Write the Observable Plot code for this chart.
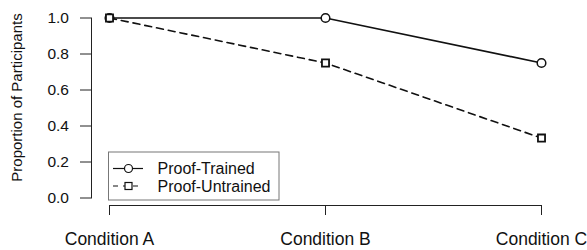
<!DOCTYPE html>
<html>
<head>
<meta charset="utf-8">
<script src="https://cdn.jsdelivr.net/npm/d3@7"></script>
<script src="https://cdn.jsdelivr.net/npm/@observablehq/plot@0.6"></script>
<style>
  html, body { margin: 0; padding: 0; background: #fff; }
  body { font-family: "Liberation Sans", Arial, sans-serif; }
</style>
</head>
<body>
<div id="chart"></div>
<script>
const conditions = ["Condition A", "Condition B", "Condition C"];
const trained = [1.0, 1.0, 0.75];
const untrained = [1.0, 0.75, 0.333];
const seriesNames = ["Proof-Trained", "Proof-Untrained"];
const yTicks = [0, 0.2, 0.4, 0.6, 0.8, 1.0];
const yTitle = "Proportion of Participants";

const rows = [
  ...conditions.map((c, i) => ({cond: c, value: trained[i], series: seriesNames[0]})),
  ...conditions.map((c, i) => ({cond: c, value: untrained[i], series: seriesNames[1]}))
];
const tr = rows.filter(d => d.series === seriesNames[0]);
const un = rows.filter(d => d.series === seriesNames[1]);

const font = "Liberation Sans, Arial, sans-serif";

const chart = Plot.plot({
  width: 587,
  height: 250,
  marginLeft: 91,
  marginRight: 46,
  marginTop: 17.5,
  marginBottom: 52.5,
  style: {fontFamily: font, color: "#111", background: "#fff"},
  x: {type: "point", domain: conditions, range: [109, 541], padding: 0},
  y: {domain: [0, 1]},
  marks: [
    Plot.frame({anchor: "left", stroke: "#222"}),
    Plot.axisY({ticks: yTicks, tickSize: 11, tickPadding: 11.5, tickFormat: d3.format(".1f"),
      fontSize: 15.5, label: null, stroke: "#222"}),
    Plot.text([yTitle], {frameAnchor: "left", textAnchor: "middle", rotate: -90, dx: -74.5, dy: -10.5,
      fontSize: 15, fill: "#111"}),
    Plot.ruleY([0], {y: d => d, x1: () => conditions[0], x2: () => conditions[conditions.length - 1],
      dy: 7.5, stroke: "#222"}),
    Plot.axisX({tickSize: 10, tickPadding: 17, dy: 7.5, fontSize: 17.5, label: null, stroke: "#222"}),
    Plot.line(tr, {x: "cond", y: "value", stroke: "#111", strokeWidth: 1.6}),
    Plot.line(un, {x: "cond", y: "value", stroke: "#111", strokeWidth: 1.6, strokeDasharray: "7,5"}),
    Plot.dot(tr, {x: "cond", y: "value", symbol: "circle", r: 4.3, fill: "#fff", stroke: "#111", strokeWidth: 1.5}),
    Plot.dot(un, {x: "cond", y: "value", symbol: "square", r: 4, fill: "#fff", stroke: "#111", strokeWidth: 1.8})
  ]
});

document.getElementById("chart").appendChild(chart);

// Legend inside plot area, positioned from the scales
const xs = chart.scale("x"), ys = chart.scale("y");
const lx = xs.apply(conditions[0]) - 0.5;
const ly = ys.apply(0.25) - 0.5;
const svg = d3.select(chart);
const g = svg.append("g").attr("font-family", font).attr("font-size", 16).attr("fill", "#111")
  .attr("text-anchor", "start");
g.append("rect").attr("x", lx).attr("y", ly).attr("width", 170.5).attr("height", 48)
  .attr("fill", "#fff").attr("stroke", "#777").attr("stroke-width", 1);
seriesNames.forEach((name, i) => {
  const yy = ly + 16.5 + i * 17.5;
  g.append("line").attr("x1", lx + 4.5).attr("x2", lx + 34.5).attr("y1", yy).attr("y2", yy)
    .attr("stroke", "#111").attr("stroke-width", 1.2)
    .attr("stroke-dasharray", i === 1 ? "5,5" : null);
  if (i === 0) {
    g.append("circle").attr("cx", lx + 20).attr("cy", yy).attr("r", 4)
      .attr("fill", "#fff").attr("stroke", "#111").attr("stroke-width", 1.2);
  } else {
    g.append("rect").attr("x", lx + 16.5).attr("y", yy - 3.5).attr("width", 7).attr("height", 7)
      .attr("fill", "#fff").attr("stroke", "#111").attr("stroke-width", 1.2);
  }
  g.append("text").attr("x", lx + 49).attr("y", yy).attr("dy", "0.35em").text(name);
});
</script>
</body>
</html>
